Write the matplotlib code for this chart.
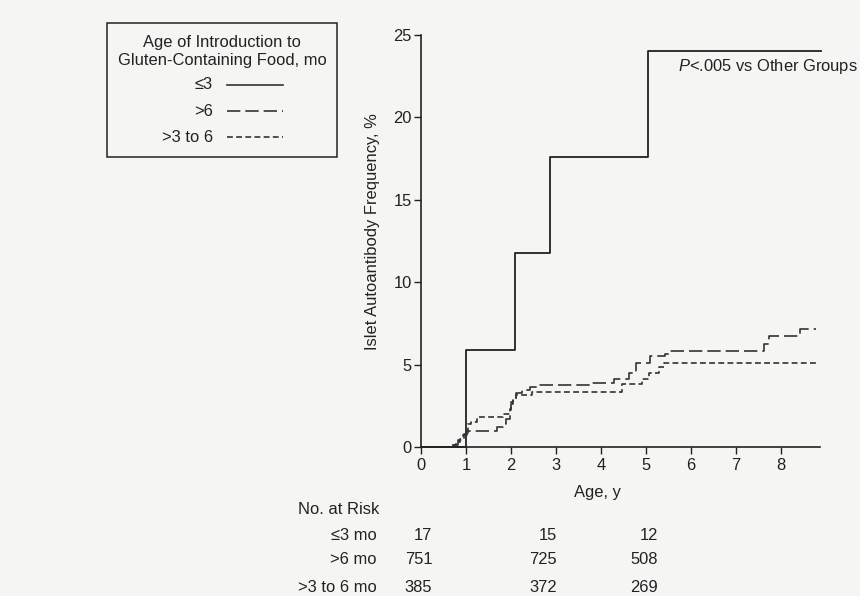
import matplotlib.pyplot as plt
from matplotlib.lines import Line2D
from matplotlib.patches import Rectangle
import matplotlib.transforms as mtransforms

plt.rcParams['font.family'] = ['Liberation Sans', 'DejaVu Sans']
plt.rcParams['font.size'] = 11.9
plt.rcParams['mathtext.fontset'] = 'custom'
plt.rcParams['mathtext.it'] = 'Liberation Sans:italic'
plt.rcParams['mathtext.rm'] = 'Liberation Sans'

# Kaplan-Meier style step curves (age in years, frequency in %)
le3_t = [0.0, 1.0, 2.1, 2.87, 5.04, 8.9]
le3_y = [0.0, 5.9, 11.8, 17.6, 24.0, 24.0]

gt6_t = [0.72, 0.82, 0.94, 1.03, 1.70, 1.83, 1.90, 1.98, 2.01, 2.05, 2.12, 2.24,
         2.42, 2.64, 3.76, 4.29, 4.62, 4.78, 5.08, 5.42, 5.54, 7.63, 7.74, 8.42, 8.78]
gt6_y = [0.1, 0.4, 0.7, 1.0, 1.22, 1.42, 1.72, 2.23, 2.63, 3.03, 3.28, 3.44,
         3.64, 3.74, 3.89, 4.15, 4.49, 5.07, 5.50, 5.66, 5.83, 6.25, 6.71, 7.15, 7.15]

mid_t = [0.68, 0.78, 0.87, 0.95, 1.05, 1.12, 1.24, 1.83, 1.98, 2.01, 2.05, 2.12,
         2.46, 4.47, 4.92, 5.07, 5.29, 5.40, 8.83]
mid_y = [0.1, 0.3, 0.5, 0.8, 1.42, 1.52, 1.82, 2.02, 2.33, 2.73, 2.93, 3.14,
         3.36, 3.80, 4.15, 4.49, 4.85, 5.07, 5.07]

# number at risk table
risk_groups = ['\u22643 mo', '>6 mo', '>3 to 6 mo']
risk_cols = [0.25, 3.02, 5.27]
risk_counts = [[17, 15, 12], [751, 725, 508], [385, 372, 269]]

legend_labels = ['\u22643', '>6', '>3 to 6']
styles = [dict(linestyle='-'), dict(linestyle=(0, (8, 3))), dict(linestyle=(0, (3.5, 2)))]

W, H = 860, 596
fig = plt.figure(figsize=(8.6, 5.96), dpi=100)
fig.patch.set_facecolor('#f5f5f4')


def fx(px):
    return px / W


def fy(py):
    return 1 - py / H


ax = fig.add_axes([fx(421), fy(447), fx(820) - fx(421), fy(35) - fy(447)])
ax.set_facecolor('none')

ax.step(le3_t, le3_y, where='post', color='#222222', lw=1.3, clip_on=False, **styles[0])
ax.step(gt6_t, gt6_y, where='post', color='#333333', lw=1.2, clip_on=False, **styles[1])
ax.step(mid_t, mid_y, where='post', color='#333333', lw=1.2, clip_on=False, **styles[2])

ax.set_xlim(0, 8.87)
ax.set_ylim(0, 25)
ax.set_xticks(range(0, 9))
ax.set_yticks(range(0, 26, 5))
for s in ['top', 'right']:
    ax.spines[s].set_visible(False)
for s in ['left', 'bottom']:
    ax.spines[s].set_linewidth(1.2)
    ax.spines[s].set_color('#222222')
ax.tick_params(axis='y', length=5, width=1, pad=1.5, colors='#222222', labelsize=11.9)
ax.tick_params(axis='x', length=5, width=1, pad=3, colors='#222222', labelsize=11.9)

ax.text(5.71, 23.06, '$\\it{P}$<.005 vs Other Groups', ha='left', va='center',
        color='#222222')

fig.text(fx(373), fy(232), 'Islet Autoantibody Frequency, %', rotation=90,
         ha='center', va='center', color='#222222')
fig.text(fx(597), fy(492), 'Age, y', ha='center', va='center', color='#222222')

# number at risk
trans = mtransforms.blended_transform_factory(ax.transData, fig.transFigure)
fig.text(fx(298), fy(509), 'No. at Risk', ha='left', va='center', color='#222222')
row_y = [535, 560, 587]
for name, counts, ry in zip(risk_groups, risk_counts, row_y):
    fig.text(fx(377), fy(ry), name, ha='right', va='center', color='#222222')
    for c, n in zip(risk_cols, counts):
        ax.text(c, fy(ry), str(n), transform=trans, ha='right', va='center',
                color='#222222', clip_on=False)

# legend box
fig.patches.append(Rectangle((fx(107), fy(157)), fx(337) - fx(107), fy(23) - fy(157),
                             transform=fig.transFigure, fill=False,
                             edgecolor='#222222', lw=1.1))
fig.text(fx(222), fy(42), 'Age of Introduction to', ha='center', va='center', color='#222222')
fig.text(fx(222), fy(61), 'Gluten-Containing Food, mo', ha='center', va='center', color='#222222')
for lab, st, ly in zip(legend_labels, styles, [85, 111, 137]):
    fig.text(fx(213), fy(ly), lab, ha='right', va='center', color='#222222')
    fig.lines.append(Line2D([fx(227), fx(283)], [fy(ly), fy(ly)], transform=fig.transFigure,
                            color='#333333', lw=1.2, **st))

fig.savefig('out.png', dpi=100, facecolor=fig.get_facecolor())
